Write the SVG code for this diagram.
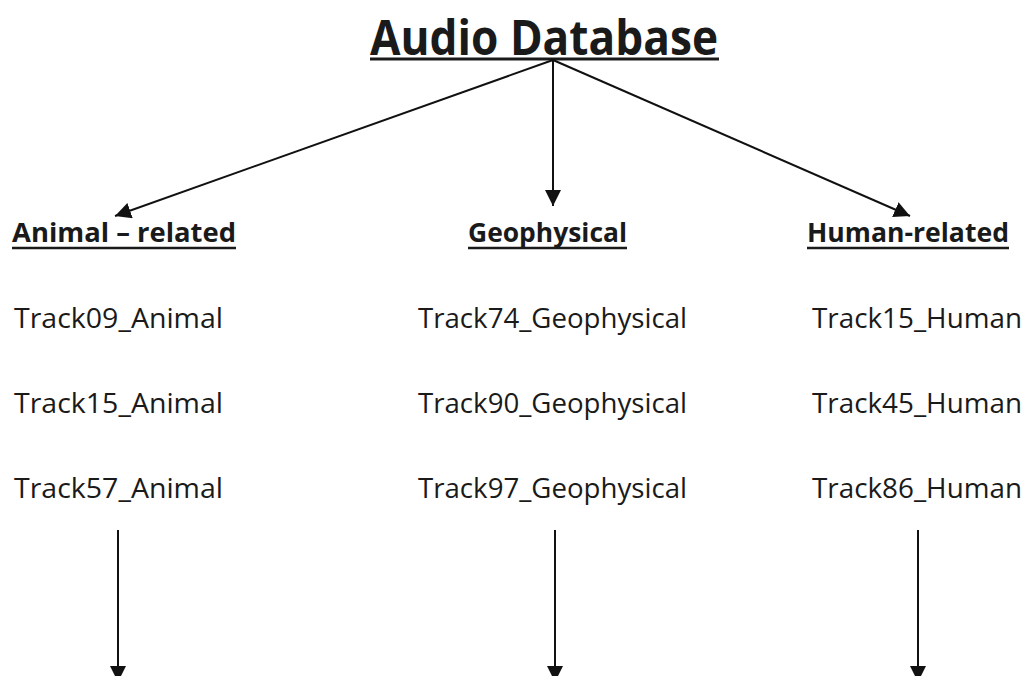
<svg xmlns="http://www.w3.org/2000/svg" width="1024" height="676" viewBox="0 0 1024 676">
<defs>
<marker id="ah" viewBox="0 0 10 10" refX="10" refY="5" markerWidth="10" markerHeight="10" markerUnits="userSpaceOnUse" orient="auto">
<path d="M0,0 L10,5 L0,10 Z" fill="#111"/>
</marker>
<marker id="ahb" viewBox="0 0 10 10" refX="10" refY="5" markerWidth="16" markerHeight="16" markerUnits="userSpaceOnUse" orient="auto">
<path d="M0,0 L10,5 L0,10 Z" fill="#111"/>
</marker>
<style>
.title{font-family:"Open Sans","Liberation Sans",sans-serif;font-weight:bold;font-size:48px;fill:#1a1a1a}
.hdr{font-family:"Open Sans","Liberation Sans",sans-serif;font-weight:bold;font-size:27px;fill:#1a1a1a}
.trk{font-family:"Open Sans","Liberation Sans",sans-serif;font-size:27px;fill:#1a1a1a}
.ul{stroke:#1a1a1a}
.conn{stroke:#111;stroke-width:2;fill:none}
</style>
</defs>
<rect width="1024" height="676" fill="#ffffff"/>
<g id="title">
<text class="title" x="370" y="55" textLength="348" lengthAdjust="spacingAndGlyphs">Audio Database</text>
<line class="ul" x1="370" y1="59" x2="719" y2="59" stroke-width="3"/>
</g>
<g id="animal">
<text class="hdr" x="12" y="242" textLength="224" lengthAdjust="spacingAndGlyphs">Animal – related</text>
<line class="ul" x1="12" y1="248" x2="236" y2="248" stroke-width="2.5"/>
<text class="trk" x="14" y="328" textLength="209" lengthAdjust="spacingAndGlyphs">Track09_Animal</text>
<text class="trk" x="14" y="413" textLength="209" lengthAdjust="spacingAndGlyphs">Track15_Animal</text>
<text class="trk" x="14" y="498" textLength="209" lengthAdjust="spacingAndGlyphs">Track57_Animal</text>
</g>
<g id="geophysical">
<text class="hdr" x="468" y="242" textLength="159" lengthAdjust="spacingAndGlyphs">Geophysical</text>
<line class="ul" x1="468" y1="248" x2="627" y2="248" stroke-width="2.5"/>
<text class="trk" x="418" y="328" textLength="269" lengthAdjust="spacingAndGlyphs">Track74_Geophysical</text>
<text class="trk" x="418" y="413" textLength="269" lengthAdjust="spacingAndGlyphs">Track90_Geophysical</text>
<text class="trk" x="418" y="498" textLength="269" lengthAdjust="spacingAndGlyphs">Track97_Geophysical</text>
</g>
<g id="human">
<text class="hdr" x="807" y="242" textLength="202" lengthAdjust="spacingAndGlyphs">Human-related</text>
<line class="ul" x1="807" y1="248" x2="1009" y2="248" stroke-width="2.5"/>
<text class="trk" x="812" y="328" textLength="210" lengthAdjust="spacingAndGlyphs">Track15_Human</text>
<text class="trk" x="812" y="413" textLength="210" lengthAdjust="spacingAndGlyphs">Track45_Human</text>
<text class="trk" x="812" y="498" textLength="210" lengthAdjust="spacingAndGlyphs">Track86_Human</text>
</g>
<g id="connectors">
<line class="conn" x1="553" y1="60" x2="115" y2="216" marker-end="url(#ahb)"/>
<line class="conn" x1="553" y1="60" x2="553" y2="206" marker-end="url(#ahb)"/>
<line class="conn" x1="553" y1="60" x2="910" y2="216" marker-end="url(#ahb)"/>
<line class="conn" x1="118" y1="530" x2="118" y2="682" marker-end="url(#ahb)"/>
<line class="conn" x1="555" y1="530" x2="555" y2="682" marker-end="url(#ahb)"/>
<line class="conn" x1="918" y1="530" x2="918" y2="682" marker-end="url(#ahb)"/>
</g>
</svg>
